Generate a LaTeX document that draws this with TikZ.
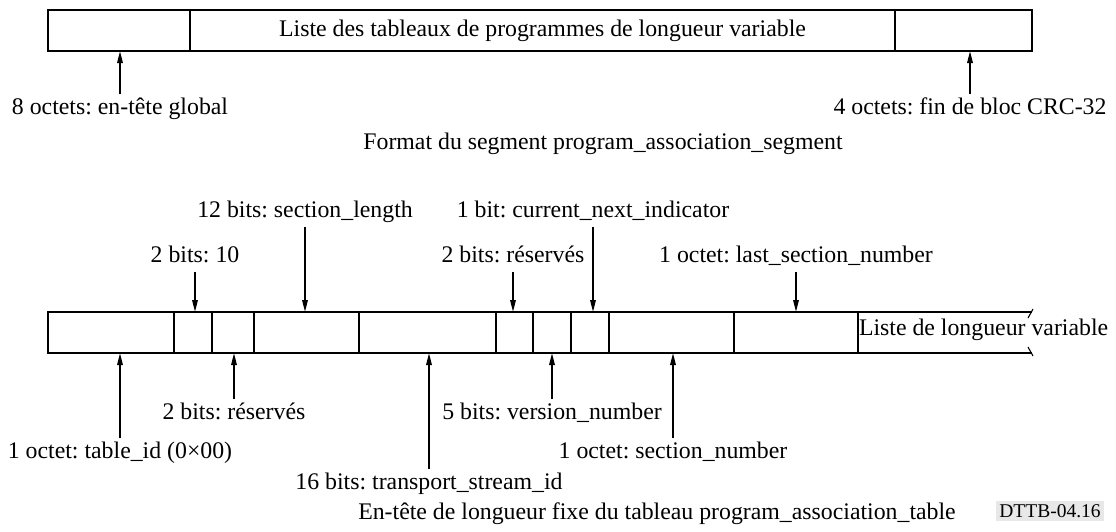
\documentclass[tikz,border=0pt]{standalone}
\usepackage{fontspec}
\setmainfont{Liberation Serif}
\usepackage{tikz}
\usetikzlibrary{arrows.meta, positioning}

\begin{document}
\frenchspacing
\begin{tikzpicture}[x=1pt, y=-1pt,
  seg/.style={
    draw, line width=1.3pt, minimum height=41pt, inner sep=0pt, outer sep=0pt,
    font=\fontsize{23.8pt}{28pt}\selectfont
  },
  lbl/.style={font=\fontsize{23.8pt}{28pt}\selectfont, inner sep=0pt, outer sep=4pt,
    text height=16pt, text depth=6pt},
  arr/.style={-{Triangle[length=12pt,width=5.5pt]}, line width=1.6pt}
]
\useasboundingbox (0,0) rectangle (1116,531);

% --- Segment program_association_segment ---
\node[seg, minimum width=142pt] (hdr) at (119,30.5) {};
\node[seg, minimum width=705pt, right=0pt of hdr] (lst) {Liste des tableaux de programmes de longueur variable};
\node[seg, minimum width=137pt, right=0pt of lst] (crc) {};

\node[lbl] (hdrlbl) at (120,109) {8 octets: en-tête global};
\node[lbl] (crclbl) at (970,109) {4 octets: fin de bloc CRC-32};
\draw[arr] (hdrlbl.north) -- (hdrlbl.north |- hdr.south);
\draw[arr] (crclbl.north) -- (crclbl.north |- crc.south);

\node[lbl] (fmt) at (603,144) {Format du segment program\_association\_segment};

% --- En-tete de longueur fixe ---
\node[seg, minimum width=126pt] (tid) at (111,332.5) {};
\node[seg, minimum width=38pt, right=0pt of tid] (bdix) {};
\node[seg, minimum width=42pt, right=0pt of bdix] (resa) {};
\node[seg, minimum width=105pt, right=0pt of resa] (slen) {};
\node[seg, minimum width=137pt, right=0pt of slen] (tsid) {};
\node[seg, minimum width=37pt, right=0pt of tsid] (resb) {};
\node[seg, minimum width=38pt, right=0pt of resb] (ver) {};
\node[seg, minimum width=38pt, right=0pt of ver] (cni) {};
\node[seg, minimum width=125pt, right=0pt of cni] (snum) {};
\node[seg, minimum width=124pt, right=0pt of snum] (lsnum) {};
\node[seg, draw=none, minimum width=174pt, right=0pt of lsnum] (var) {};

% open end of the variable list
\draw[line width=1.3pt] (var.north west) -- (var.north east);
\draw[line width=1.3pt] (var.south west) -- (var.south east);
\draw[line width=1.1pt] ([shift={(-4,6)}]var.north east) -- ([shift={(1,-3)}]var.north east);
\draw[line width=1.1pt] ([shift={(-4,-6)}]var.south east) -- ([shift={(1,3)}]var.south east);
\node[lbl, anchor=west, outer sep=1pt] (varlbl) at ([yshift=2]var.west) {Liste de longueur variable};

% labels above
\node[lbl] (slenlbl) at (305,212) {12 bits: section\_length};
\node[lbl] (cnilbl) at (593,212) {1 bit: current\_next\_indicator};
\node[lbl] (bdixlbl) at (195,257) {2 bits: 10};
\node[lbl] (resblbl) at (513,257) {2 bits: réservés};
\node[lbl] (lsnumlbl) at (796,257) {1 octet: last\_section\_number};

\draw[arr] (slenlbl.south) -- (slenlbl.south |- slen.north);
\draw[arr] (cnilbl.south) -- (cnilbl.south |- cni.north);
\draw[arr] (bdixlbl.south) -- (bdixlbl.south |- bdix.north);
\draw[arr] (resblbl.south) -- (resblbl.south |- resb.north);
\draw[arr] (lsnumlbl.south) -- (lsnumlbl.south |- lsnum.north);

% labels below
\node[lbl] (resalbl) at (234,414) {2 bits: réservés};
\node[lbl] (verlbl) at (552,414) {5 bits: version\_number};
\node[lbl] (tidlbl) at (120,453) {1 octet: table\_id (0×00)};
\node[lbl] (snumlbl) at (673,453) {1 octet: section\_number};
\node[lbl] (tsidlbl) at (429,484) {16 bits: transport\_stream\_id};

\draw[arr] (resalbl.north) -- (resalbl.north |- resa.south);
\draw[arr] (verlbl.north) -- (verlbl.north |- ver.south);
\draw[arr] (tidlbl.north) -- (tidlbl.north |- tid.south);
\draw[arr] (snumlbl.north) -- (snumlbl.north |- snum.south);
\draw[arr] (tsidlbl.north) -- (tsidlbl.north |- tsid.south);

\node[lbl] (cap) at (657,514) {En-tête de longueur fixe du tableau program\_association\_table};
\node[font=\fontsize{19.5pt}{22pt}\selectfont, fill=black!9, inner sep=3pt] (ref) at (1050,511) {DTTB-04.16};

\end{tikzpicture}
\end{document}
